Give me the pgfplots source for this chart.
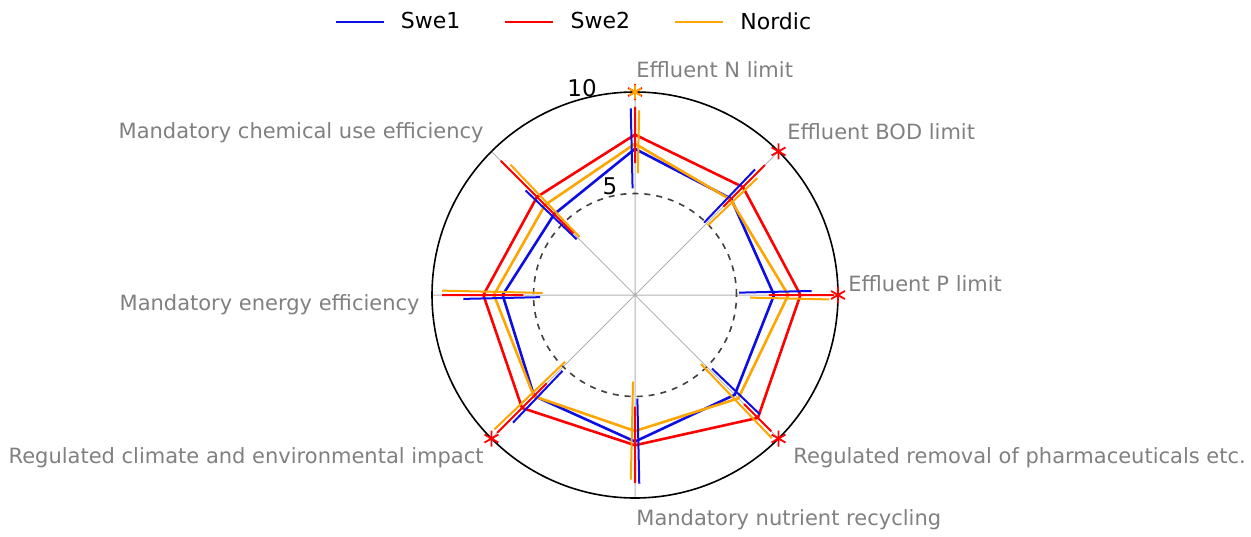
\documentclass[border=0pt]{standalone}
\usepackage{fontspec}
\setmainfont{DejaVu Sans}
\usepackage{pgfplots}
\pgfplotsset{compat=1.18}
\usepgfplotslibrary{polar}
\definecolor{sblue}{rgb}{0.05,0.05,0.9}
\definecolor{sred}{rgb}{1,0,0}
\definecolor{sorange}{rgb}{1,0.647,0}
\definecolor{lblgray}{rgb}{0.5,0.5,0.5}
\newcommand{\lbl}{\fontsize{10.5}{12}\selectfont}
\begin{document}
\begin{tikzpicture}
\useasboundingbox (0,0) rectangle (625.5pt,268pt);
\begin{polaraxis}[
  at={(317.5pt,120.5pt)}, anchor=center,
  scale only axis, width=203pt, height=203pt,
  ymin=0, ymax=10,
  xtick={0,45,...,315}, ytick={5},
  xticklabels={}, yticklabels={},
  xmajorgrids, ymajorgrids,
  x grid style={black!30, line width=0.5pt},
  y grid style={black!75, dashed, line width=0.8pt},
  major tick length=0pt,
  axis line style={black, line width=0.8pt},
  y axis line style={draw=none},
  clip=false,
  unbounded coords=jump,
  legend columns=3,
  legend style={at={(0.352,1.172)}, anchor=center, draw=none, fill=none,
    font=\fontsize{11}{13}\selectfont,
    /tikz/every even column/.append style={column sep=20pt}},
  legend image code/.code={\draw[#1, line width=0.9pt] (0pt,0pt) -- (24pt,0pt); \path (30pt,0pt);},
]
% polygons
\addplot[sblue, line width=1.3pt] coordinates {(90,7.2) (45,6.7) (0,6.85) (-45,6.95) (-90,7.22) (-135,7.03) (180,6.52) (135,5.63) (90,7.2)};
\addlegendentry{Swe1}
\addplot[sred, line width=1.3pt] coordinates {(90,7.9) (45,7.52) (0,8.15) (-45,8.56) (-90,7.4) (-135,7.87) (180,7.47) (135,6.83) (90,7.9)};
\addlegendentry{Swe2}
\addplot[sorange, line width=1.3pt] coordinates {(90,7.45) (45,6.65) (0,7.55) (-45,7.2) (-90,6.7) (-135,7.05) (180,6.95) (135,6.27) (90,7.45)};
\addlegendentry{Nordic}
% error bars
\addplot[sblue, line width=1pt, forget plot] coordinates {
(91.3,5.25) (91.3,9.2) (0,nan)
(46.3,4.93) (46.3,8.56) (0,nan)
(1.3,5.13) (1.3,8.7) (0,nan)
(-43.7,5.25) (-43.7,8.5) (0,nan)
(-88.7,5.1) (-88.7,9.3) (0,nan)
(-133.7,5.17) (-133.7,8.7) (0,nan)
(181.3,4.68) (181.3,8.46) (0,nan)
(136.3,3.98) (136.3,7.45)};
\addplot[sred, line width=1pt, forget plot] coordinates {
(90,6.5) (90,9.27) (0,nan)
(45,6.15) (45,9.05) (0,nan)
(0,6.6) (0,9.8) (0,nan)
(-45,7.6) (-45,9.5) (0,nan)
(-90,5.5) (-90,9.27) (0,nan)
(-135,6.15) (-135,9.6) (0,nan)
(180,5.5) (180,9.5) (0,nan)
(135,4.3) (135,9.35)};
\addplot[sorange, line width=1pt, forget plot] coordinates {
(88.7,6.0) (88.7,9.1) (0,nan)
(43.7,4.96) (43.7,8.33) (0,nan)
(-1.3,5.67) (-1.3,9.57) (0,nan)
(-46.3,4.7) (-46.3,9.75) (0,nan)
(-91.3,4.27) (-91.3,9.1) (0,nan)
(-136.3,4.76) (-136.3,9.58) (0,nan)
(178.7,4.55) (178.7,9.5) (0,nan)
(133.7,3.95) (133.7,8.88)};
% stars
\addplot[only marks, mark=asterisk, sred, mark size=4pt, line width=0.9pt, forget plot] coordinates {(90,10) (45,10) (0,10) (-45,10) (-135,10)};
\addplot[only marks, mark=asterisk, sorange, mark size=3.5pt, line width=0.9pt, forget plot] coordinates {(90,10)};
\end{polaraxis}
% radial tick labels
\node[font=\fontsize{11.5}{13}\selectfont, text=black] at (291pt,224pt) {10};
\node[font=\fontsize{11.5}{13}\selectfont, text=black] at (305pt,175pt) {5};
% category labels
\begin{scope}[every node/.style={text=lblgray, font=\lbl, inner xsep=0pt}]
\node[anchor=west] at (318pt,233pt) {Effluent N limit};
\node[anchor=west] at (393.5pt,202pt) {Effluent BOD limit};
\node[anchor=west] at (424pt,126pt) {Effluent P limit};
\node[anchor=west] at (396.5pt,39pt) {Regulated removal of pharmaceuticals etc.};
\node[anchor=west] at (318pt,8pt) {Mandatory nutrient recycling};
\node[anchor=east] at (242pt,39pt) {Regulated climate and environmental impact};
\node[anchor=east] at (210pt,115.5pt) {Mandatory energy efficiency};
\node[anchor=east] at (242pt,201.5pt) {Mandatory chemical use efficiency};
\end{scope}
\end{tikzpicture}
\end{document}
